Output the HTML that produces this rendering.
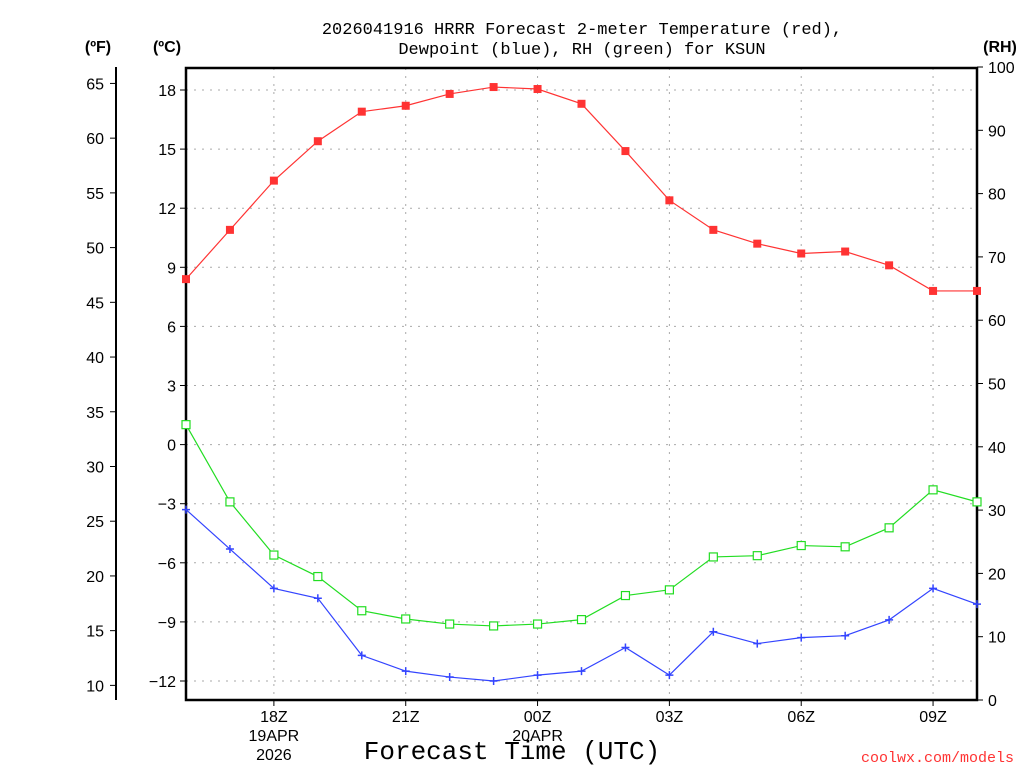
<!DOCTYPE html>
<html><head><meta charset="utf-8"><style>
body{margin:0;background:#fff;}
svg{display:block;font-family:"Liberation Sans",sans-serif;}
</style></head><body>
<svg id="chart" width="1024" height="768">
<text x="582" y="34" text-anchor="middle" font-size="17" font-family="Liberation Mono, monospace">2026041916 HRRR Forecast 2-meter Temperature (red),</text>
<text x="582" y="54" text-anchor="middle" font-size="17" font-family="Liberation Mono, monospace">Dewpoint (blue), RH (green) for KSUN</text>
<text x="98" y="52" text-anchor="middle" font-size="16" font-weight="bold">(ºF)</text>
<text x="167" y="52" text-anchor="middle" font-size="16" font-weight="bold">(ºC)</text>
<text x="1000" y="52" text-anchor="middle" font-size="16" font-weight="bold">(RH)</text>
<text x="512" y="759" text-anchor="middle" font-size="26" font-family="Liberation Mono, monospace">Forecast Time (UTC)</text>
<text x="1014" y="762" text-anchor="end" font-size="15" fill="#ff3333" font-family="Liberation Mono, monospace">coolwx.com/models</text>
<g id="grid"></g><g id="axes"></g><g id="series"></g>
</svg>
<script>
const hours=[16,17,18,19,20,21,22,23,24,25,26,27,28,29,30,31,32,33,34];
const tempC=[8.4,10.9,13.4,15.4,16.9,17.2,17.8,18.15,18.05,17.3,14.9,12.4,10.9,10.2,9.7,9.8,9.1,7.8,7.8];
const dewC=[-3.3,-5.3,-7.3,-7.8,-10.7,-11.5,-11.8,-12.0,-11.7,-11.5,-10.3,-11.7,-9.5,-10.1,-9.8,-9.7,-8.9,-7.3,-8.1];
const rh=[43.5,31.3,22.9,19.5,14.1,12.8,12.0,11.7,12.0,12.7,16.5,17.4,22.6,22.8,24.4,24.2,27.2,33.2,31.3];
const cTicks=[18,15,12,9,6,3,0,-3,-6,-9,-12];
const fTicks=[65,60,55,50,45,40,35,30,25,20,15,10];
const rhTicks=[100,90,80,70,60,50,40,30,20,10,0];
const xTicks=[18,21,24,27,30,33];
const xLabels=["18Z","21Z","00Z","03Z","06Z","09Z"];
const NS="http://www.w3.org/2000/svg";
const L=186,R=977,T=68,B=700;
const xs=h=>L+(h-16)*(R-L)/18;
const yc=c=>90+(18-c)*(681-90)/30;
const yf=f=>yc((f-32)*5/9);
const yr=r=>B-r*(B-67)/100;
function mk(tag,at,parent){const e=document.createElementNS(NS,tag);for(const k in at)e.setAttribute(k,at[k]);parent.appendChild(e);return e;}
const grid=document.getElementById('grid'),axes=document.getElementById('axes'),series=document.getElementById('series');
cTicks.forEach(c=>{const y=yc(c);
 const g=mk('line',{x1:L,x2:R,y1:y,y2:y,stroke:'#aaa','stroke-dasharray':'2,6'},grid);
 
 
 mk('line',{x1:L-6,x2:L,y1:y,y2:y,stroke:'#000'},axes);
 const t=mk('text',{x:L-10,y:y+6,'text-anchor':'end','font-size':'16'},axes);t.textContent=(c<0?'\u2212'+(-c):c);
 
 });
xTicks.forEach((h,i)=>{const x=xs(h);
 const g=mk('line',{x1:x,x2:x,y1:T,y2:B,stroke:'#aaa','stroke-dasharray':'2,6'},grid);
 
 
 mk('line',{x1:x,x2:x,y1:B,y2:B+6,stroke:'#000'},axes);
 const t=mk('text',{x:x,y:722,'text-anchor':'middle','font-size':'16'},axes);t.textContent=xLabels[i];
 
 });
[["19APR","2026",18],["20APR","",24]].forEach(d=>{const x=xs(d[2]);
 const a=mk('text',{x:x,y:741,'text-anchor':'middle','font-size':'16'},axes);a.textContent=d[0];
 
 
 if(d[1]){const b=mk('text',{x:x,y:760,'text-anchor':'middle','font-size':'16'},axes);b.textContent=d[1];
 
 }});
const fr=mk('rect',{x:L,y:T,width:R-L,height:B-T,fill:'none',stroke:'#000','stroke-width':2.5},axes);


mk('line',{x1:116,x2:116,y1:67,y2:700,stroke:'#000','stroke-width':2},axes);
fTicks.forEach(f=>{const y=yf(f);mk('line',{x1:110,x2:116,y1:y,y2:y,stroke:'#000'},axes);
 const t=mk('text',{x:104,y:y+6,'text-anchor':'end','font-size':'16'},axes);t.textContent=f;
 
 });
rhTicks.forEach(r=>{const y=yr(r);mk('line',{x1:R,x2:R+6,y1:y,y2:y,stroke:'#000'},axes);
 const t=mk('text',{x:988,y:y+6,'font-size':'16'},axes);t.textContent=r;
 
 });
function line(vals,yfn,color,name){
 const p=mk('polyline',{points:vals.map((v,i)=>xs(hours[i])+','+yfn(v)).join(' '),fill:'none',stroke:color,'stroke-width':1.2},series);
 
 
}
line(tempC,yc,'#ff3333','temperature');
line(dewC,yc,'#3344ff','dewpoint');
line(rh,yr,'#22dd22','rh');
tempC.forEach((v,i)=>{const m=mk('rect',{x:xs(hours[i])-4,y:yc(v)-4,width:8,height:8,fill:'#ff3333'},series);
 
 });
rh.forEach((v,i)=>{const m=mk('rect',{x:xs(hours[i])-4,y:yr(v)-4,width:8,height:8,fill:'#fff',stroke:'#22dd22','stroke-width':1.2},series);
 
 });
dewC.forEach((v,i)=>{const x=xs(hours[i]),y=yc(v);
 const m=mk('path',{d:`M${x-4},${y}H${x+4}M${x},${y-4}V${y+4}`,stroke:'#3344ff','stroke-width':1.5},series);
 
 });
</script>
</body></html>
